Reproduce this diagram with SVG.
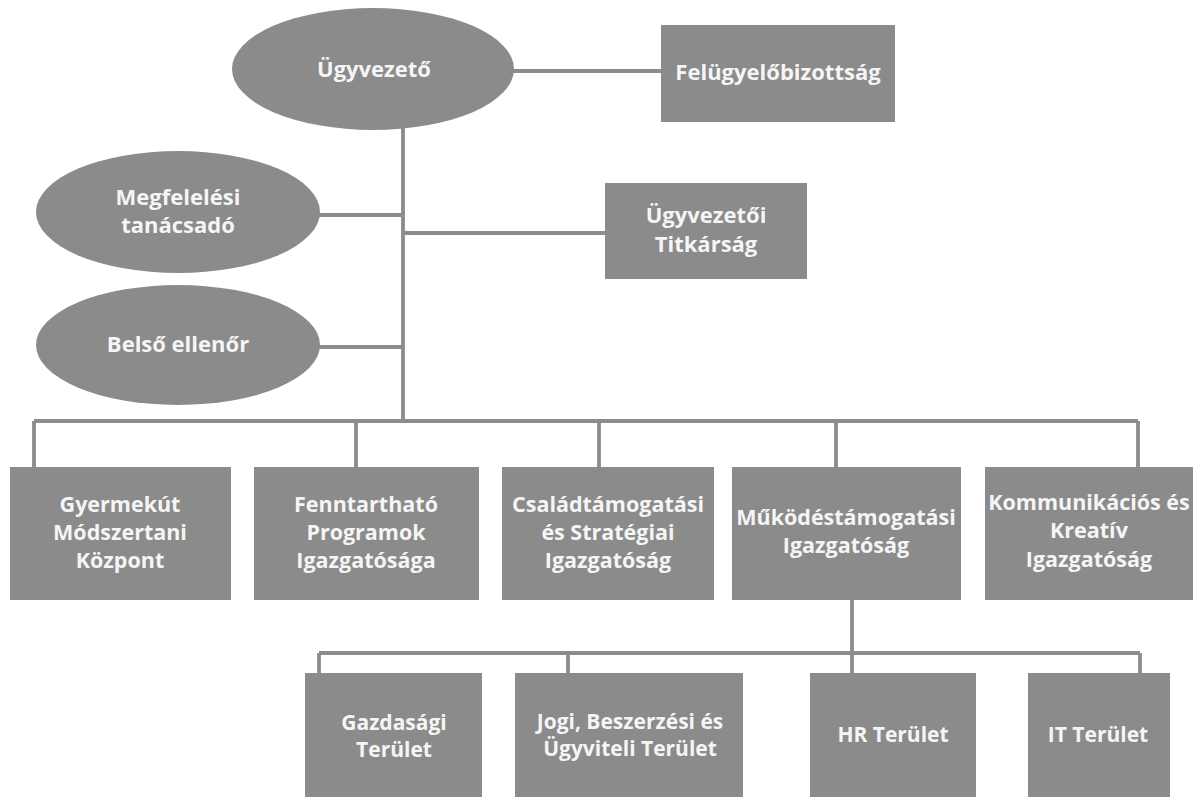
<svg xmlns="http://www.w3.org/2000/svg" width="1201" height="797" viewBox="0 0 1201 797">
<style>
.n{fill:#8b8b8b}
.t{font-family:"Open Sans","Liberation Sans",sans-serif;font-weight:700;fill:#f5f5f5;text-anchor:middle}
.a{font-size:22px}
.b{font-size:21.5px}
.c{font-size:22px}
.d{font-size:21px}
.l{stroke:#8c8c8c;stroke-width:3.8;fill:none}
</style>
<rect width="1201" height="797" fill="#ffffff"/>
<g id="connectors">
<path class="l" d="M513 71H661"/>
<path class="l" d="M403 126V421"/>
<path class="l" d="M318 215H403"/>
<path class="l" d="M403 233H605"/>
<path class="l" d="M318 347H403"/>
<path class="l" d="M34 421H1138"/>
<path class="l" d="M34 421V467M356 421V467M599 421V467M836 421V467M1138 421V467"/>
<path class="l" d="M852 600V673"/>
<path class="l" d="M319 653H1140"/>
<path class="l" d="M319 653V673M568 653V673M1140 653V673"/>
</g>
<g id="ugyvezeto">
<ellipse class="n" cx="373" cy="69" rx="141" ry="61"/>
<text class="t a" x="374" y="77">Ügyvezető</text>
</g>
<g id="felugyelobizottsag">
<rect class="n" x="661" y="25" width="234" height="97"/>
<text class="t a" x="778" y="80">Felügyelőbizottság</text>
</g>
<g id="megfelelesi">
<ellipse class="n" cx="178" cy="212" rx="142" ry="61"/>
<text class="t c" x="178" y="205">Megfelelési</text>
<text class="t c" x="178" y="233">tanácsadó</text>
</g>
<g id="titkarsag">
<rect class="n" x="605" y="183" width="202" height="96"/>
<text class="t a" x="706" y="223">Ügyvezetői</text>
<text class="t a" x="706" y="252">Titkárság</text>
</g>
<g id="belso">
<ellipse class="n" cx="178" cy="345" rx="142" ry="60"/>
<text class="t c" x="178" y="352">Belső ellenőr</text>
</g>
<g id="gyermekut">
<rect class="n" x="10" y="467" width="221" height="133"/>
<text class="t b" x="120" y="512">Gyermekút</text>
<text class="t b" x="120" y="540">Módszertani</text>
<text class="t b" x="120" y="568">Központ</text>
</g>
<g id="fenntarthato">
<rect class="n" x="254" y="467" width="225" height="133"/>
<text class="t b" x="366" y="512">Fenntartható</text>
<text class="t b" x="366" y="540">Programok</text>
<text class="t b" x="366" y="568">Igazgatósága</text>
</g>
<g id="csaladtamogatasi">
<rect class="n" x="502" y="467" width="212" height="133"/>
<text class="t b" x="608" y="512">Családtámogatási</text>
<text class="t b" x="608" y="540">és Stratégiai</text>
<text class="t b" x="608" y="568">Igazgatóság</text>
</g>
<g id="mukodestamogatasi">
<rect class="n" x="732" y="467" width="229" height="133"/>
<text class="t b" x="846" y="525">Működéstámogatási</text>
<text class="t b" x="846" y="553">Igazgatóság</text>
</g>
<g id="kommunikacios">
<rect class="n" x="985" y="467" width="208" height="133"/>
<text class="t b" x="1089" y="510">Kommunikációs és</text>
<text class="t b" x="1089" y="538">Kreatív</text>
<text class="t b" x="1089" y="567">Igazgatóság</text>
</g>
<g id="gazdasagi">
<rect class="n" x="305" y="673" width="177" height="124"/>
<text class="t d" x="394" y="730">Gazdasági</text>
<text class="t d" x="394" y="757">Terület</text>
</g>
<g id="jogi">
<rect class="n" x="515" y="673" width="228" height="124"/>
<text class="t d" x="630" y="729">Jogi, Beszerzési és</text>
<text class="t d" x="630" y="756">Ügyviteli Terület</text>
</g>
<g id="hr">
<rect class="n" x="810" y="673" width="166" height="124"/>
<text class="t d" x="893" y="742">HR Terület</text>
</g>
<g id="it">
<rect class="n" x="1028" y="673" width="142" height="124"/>
<text class="t d" x="1098" y="742">IT Terület</text>
</g>
</svg>
